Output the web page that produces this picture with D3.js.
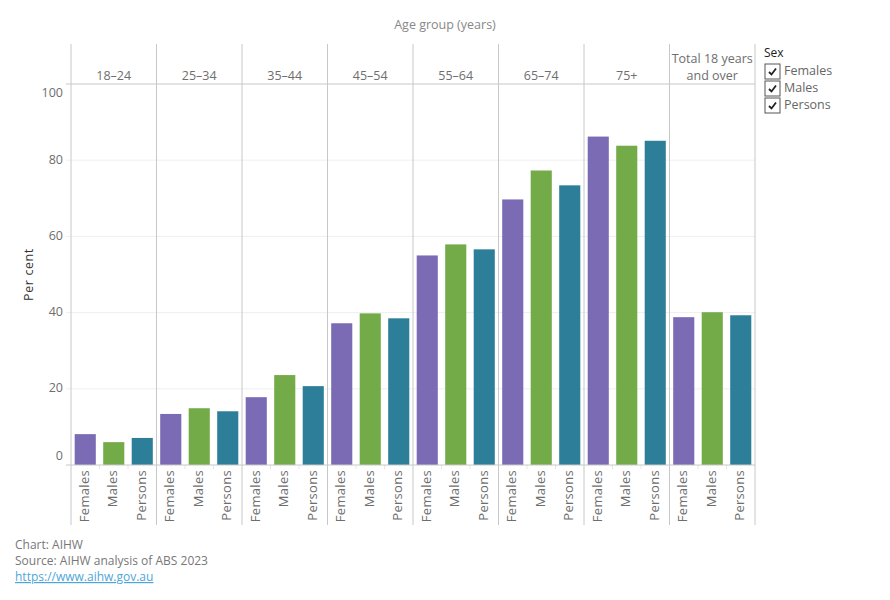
<!DOCTYPE html>
<html>
<head>
<meta charset="utf-8">
<script src="https://cdn.jsdelivr.net/npm/d3@7"></script>
<style>
  body { margin: 0; background: #fff; }
  svg { display: block; font-family: "Open Sans", "Noto Sans", sans-serif; }
</style>
</head>
<body>
<svg id="chart" width="890" height="600"></svg>
<script>
const ageGroups = ["18–24", "25–34", "35–44", "45–54", "55–64", "65–74", "75+", "Total 18 years and over"];
const sexes = ["Females", "Males", "Persons"];
const females = [8.1, 13.4, 17.8, 37.2, 55.0, 69.7, 86.2, 38.8];
const males   = [6.0, 14.9, 23.6, 39.8, 57.9, 77.3, 83.8, 40.1];
const persons = [7.1, 14.1, 20.7, 38.5, 56.6, 73.4, 85.1, 39.3];
const yTicks = [0, 20, 40, 60, 80, 100];
const colors = ["#7b6ab4", "#73ab48", "#2c7e99"];

const seriesBySex = { Females: females, Males: males, Persons: persons };
const data = [];
ageGroups.forEach((a, i) => sexes.forEach(s => data.push({ age: a, sex: s, value: seriesBySex[s][i] })));

const svg = d3.select("#chart");
const L = 71, R = 755, top0 = 44, headerBottom = 84, base = 465, bottom = 525;

const x0 = d3.scaleBand().domain(ageGroups).range([L, R]).padding(0);
const x1 = d3.scaleBand().domain(sexes).range([0, x0.bandwidth()]).paddingInner(0.26).paddingOuter(0.13);
const y = d3.scaleLinear().domain([0, 100]).range([base, headerBottom]);
const color = d3.scaleOrdinal().domain(sexes).range(colors);

const textGrey = "#6e6e6e";
const lineGrey = "#c8c8c8";

// Title
svg.append("text").attr("x", 445).attr("y", 26).attr("text-anchor", "middle")
  .attr("dominant-baseline", "middle").attr("font-size", 12.5).attr("fill", "#888")
  .text("Age group (years)");

// Gridlines
svg.append("g").selectAll("line").data(yTicks.filter(t => t > 0 && t < 100)).join("line")
  .attr("x1", L - 5).attr("x2", R).attr("y1", d => y(d)).attr("y2", d => y(d))
  .attr("stroke", "#efefef").attr("stroke-width", 1);

// Y tick labels
svg.append("g").selectAll("text").data(yTicks).join("text")
  .attr("x", 63).attr("y", d => d === 100 ? y(d) + 10 : d === 0 ? y(d) - 8 : y(d))
  .attr("text-anchor", "end").attr("dominant-baseline", "middle")
  .attr("font-size", 12.5).attr("fill", textGrey).text(d => d);

// Y axis title
svg.append("text").attr("transform", `translate(30,${(headerBottom + base) / 2}) rotate(-90)`)
  .attr("text-anchor", "middle").attr("dominant-baseline", "middle")
  .attr("font-size", 12.5).attr("letter-spacing", 0.6).attr("fill", "#333").text("Per cent");

// Bars
svg.append("g").selectAll("rect").data(data).join("rect")
  .attr("x", d => x0(d.age) + x1(d.sex))
  .attr("width", x1.bandwidth())
  .attr("y", d => y(d.value))
  .attr("height", d => y(0) - y(d.value))
  .attr("fill", d => color(d.sex));

// Small ticks between bars below baseline
const tickData = [];
ageGroups.forEach(a => [1, 2].forEach(k => tickData.push(x0(a) + k * x1.step())));
svg.append("g").selectAll("line").data(tickData).join("line")
  .attr("x1", d => d).attr("x2", d => d).attr("y1", base).attr("y2", base + 4)
  .attr("stroke", "#e6e6e6");

// Panel lines
const borders = ageGroups.map(a => x0(a)).concat([R]);
svg.append("g").selectAll("line").data(borders).join("line")
  .attr("x1", d => d).attr("x2", d => d).attr("y1", top0).attr("y2", bottom)
  .attr("stroke", lineGrey).attr("stroke-width", 1);

// Header bottom line and baseline
[headerBottom, base].forEach(yy => svg.append("line")
  .attr("x1", L - 5).attr("x2", R).attr("y1", yy).attr("y2", yy)
  .attr("stroke", lineGrey).attr("stroke-width", 1));

// Header labels
const hdr = svg.append("g");
ageGroups.forEach(a => {
  const cx = x0(a) + x0.bandwidth() / 2;
  if (a.startsWith("Total")) {
    const t = hdr.append("text").attr("text-anchor", "middle").attr("font-size", 12.5).attr("fill", textGrey);
    t.append("tspan").attr("x", cx).attr("y", 63).text("Total 18 years");
    t.append("tspan").attr("x", cx).attr("y", 80).text("and over");
  } else {
    hdr.append("text").attr("x", cx).attr("y", 80).attr("text-anchor", "middle")
      .attr("font-size", 12.5).attr("fill", textGrey).text(a);
  }
});

// X labels (rotated)
svg.append("g").selectAll("text").data(data).join("text")
  .attr("transform", d => `translate(${x0(d.age) + x1(d.sex) + x1.bandwidth() / 2},${base + 5}) rotate(-90)`)
  .attr("text-anchor", "end").attr("dominant-baseline", "middle")
  .attr("font-size", 13).attr("letter-spacing", 0.3).attr("fill", textGrey).text(d => d.sex);

// Legend
const lg = svg.append("g");
lg.append("text").attr("x", 764).attr("y", 54).attr("dominant-baseline", "middle")
  .attr("font-size", 12).attr("fill", "#222").text("Sex");
sexes.forEach((s, i) => {
  const yy = 64 + i * 17;
  lg.append("rect").attr("x", 765).attr("y", yy).attr("width", 15).attr("height", 15)
    .attr("fill", "#fff").attr("stroke", "#555").attr("stroke-width", 1);
  lg.append("path").attr("d", `M${769},${yy + 8} L${771.5},${yy + 10.5} L${776},${yy + 4.5}`)
    .attr("fill", "none").attr("stroke", "#222").attr("stroke-width", 1.8);
  lg.append("text").attr("x", 784).attr("y", yy + 7.5).attr("dominant-baseline", "middle")
    .attr("font-size", 12.5).attr("fill", "#666").text(s);
});

// Footer
const ft = svg.append("g").attr("font-size", 12).attr("fill", "#777");
ft.append("text").attr("x", 15).attr("y", 549).text("Chart: AIHW");
ft.append("text").attr("x", 15).attr("y", 565).text("Source: AIHW analysis of ABS 2023");
ft.append("text").attr("x", 15).attr("y", 581).attr("fill", "#4ea6d8")
  .attr("text-decoration", "underline").text("https://www.aihw.gov.au");
</script>
</body>
</html>
